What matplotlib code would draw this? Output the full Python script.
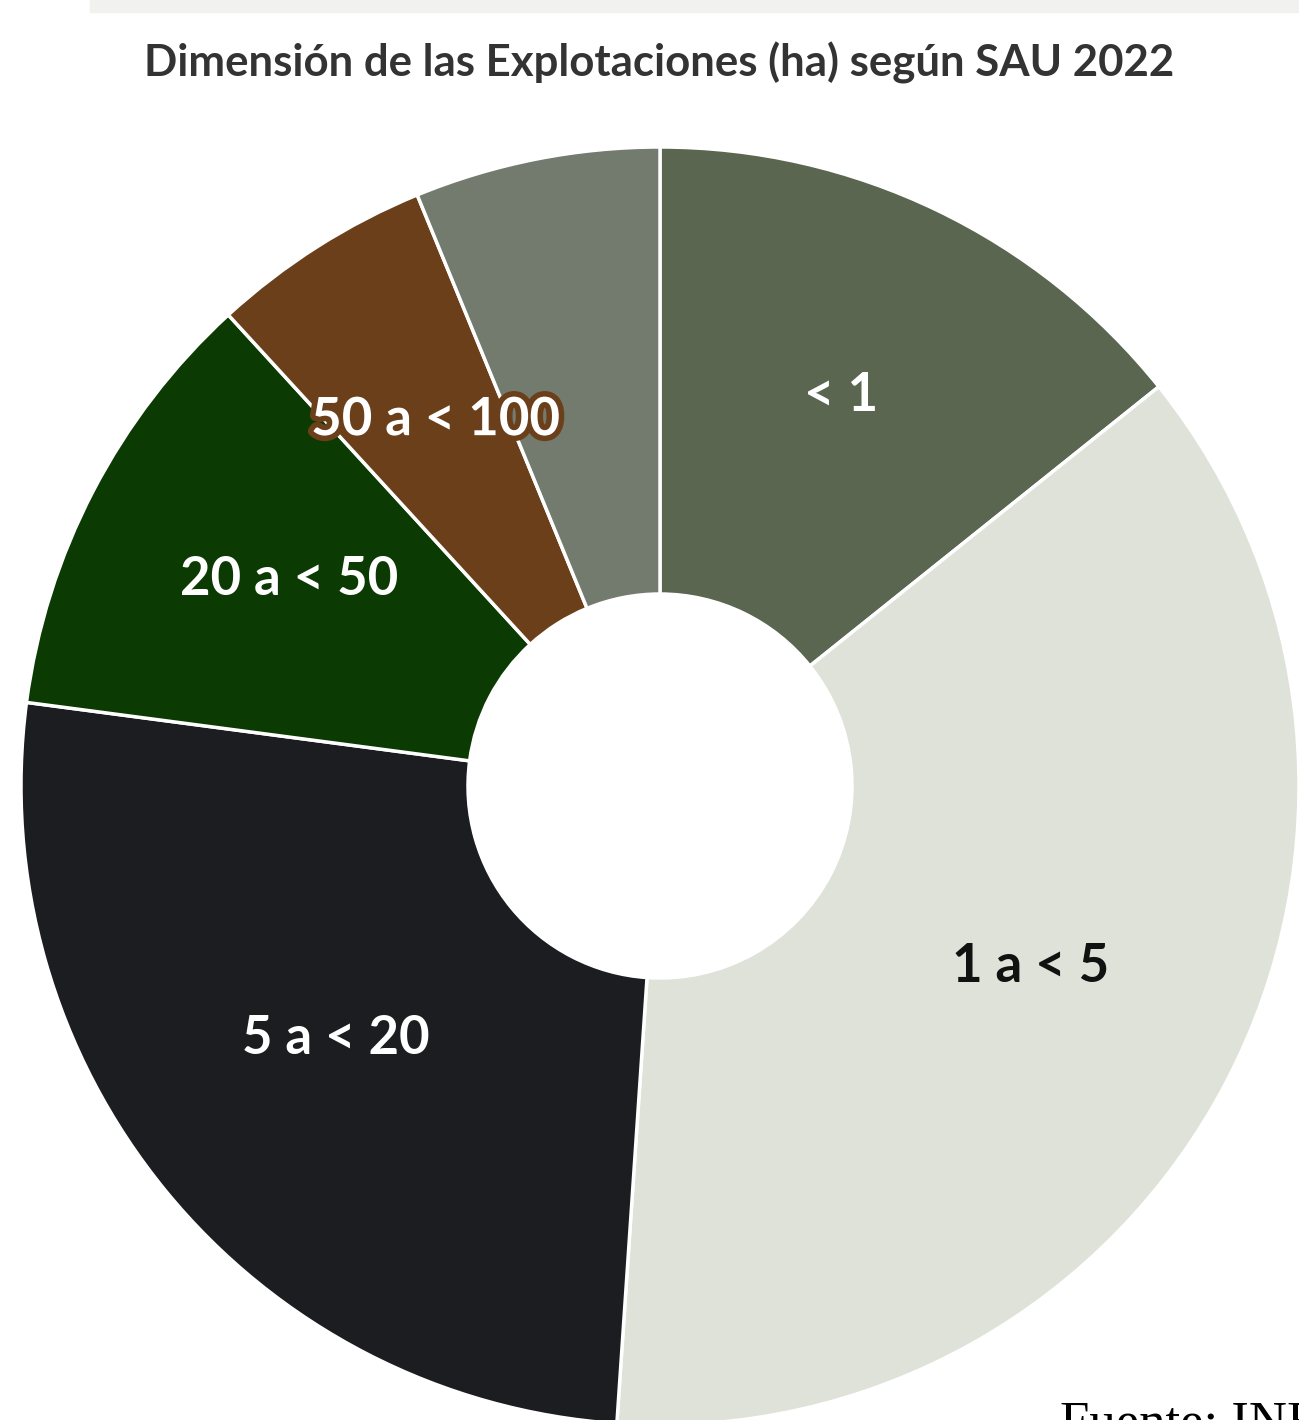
import matplotlib
matplotlib.use("Agg")
import matplotlib.pyplot as plt
import matplotlib.patheffects as pe
from matplotlib.patches import Rectangle
from matplotlib.transforms import offset_copy

# ---- data ----
categories = ["< 1", "1 a < 5", "5 a < 20", "20 a < 50", "50 a < 100", "≥ 100"]
shares = [14.25, 36.8, 26.0, 11.1, 5.6, 6.2]
shown_labels = ["< 1", "1 a < 5", "5 a < 20", "20 a < 50", "50 a < 100", ""]
colors = ["#5a6650", "#dfe2d8", "#1b1d20", "#0b3a02", "#6b3f1a", "#737a6e"]
label_colors = ["white", "#111111", "white", "white", "white", "white"]
title = "Dimensión de las Explotaciones (ha) según SAU 2022"
source = "Fuente: INE"

W, H, DPI = 1299, 1420, 100
fig = plt.figure(figsize=(W / DPI, H / DPI), dpi=DPI)
fig.patch.set_facecolor("white")

# pixel geometry of the donut
cx, cy, R = 660, 786, 639
ax = fig.add_axes([0, 0, 1, 1])

wedges, texts = ax.pie(
    shares,
    colors=colors,
    startangle=90,
    counterclock=False,
    radius=1.0,
    labels=shown_labels,
    labeldistance=0.655,
    wedgeprops=dict(width=1 - 192 / R, edgecolor="white", linewidth=2.5),
    textprops=dict(fontsize=38, fontweight="bold", family="Lato",
                   ha="center", va="center"),
)
ax.set_xlim(-cx / R, (W - cx) / R)
ax.set_ylim((cy - H) / R, cy / R)
ax.set_aspect("equal")
ax.axis("off")

shift = offset_copy(ax.transData, fig=fig, x=0, y=13, units="dots")
for t, c in zip(texts, label_colors):
    t.set_color(c)
    t.set_transform(shift)
texts[4].set_path_effects([pe.withStroke(linewidth=8, foreground="#6b3f1a")])

# top strip
fig.patches.append(Rectangle((90 / W, 1 - 12 / H), 1, 12 / H,
                             transform=fig.transFigure, color="#f1f2ef", zorder=0))

fig.text(659 / W, 1 - 63 / H, title, ha="center", va="center",
         fontsize=31.5, fontweight="bold", family="Lato", color="#333333")

fig.text(1060 / W, 1 - 1437 / H, source, ha="left", va="baseline",
         fontsize=38, family="Liberation Serif", color="black")

fig.savefig("out.png", dpi=DPI)
